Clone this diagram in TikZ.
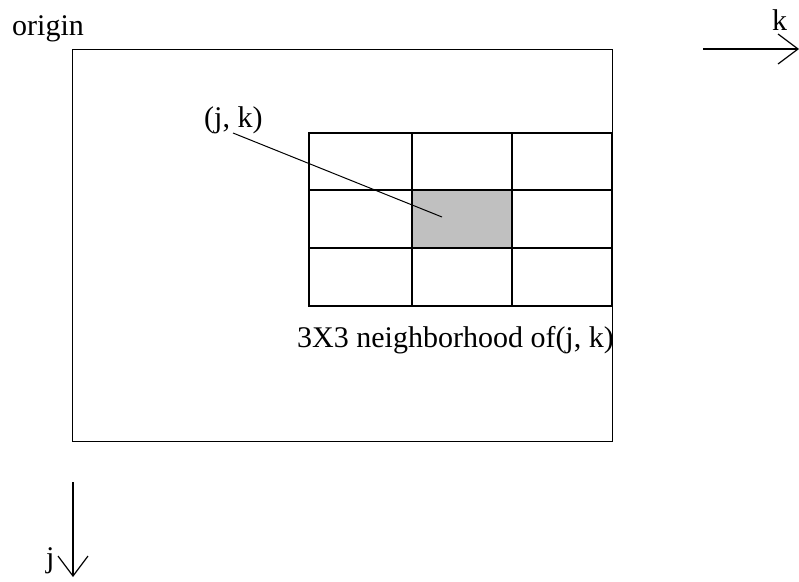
\documentclass[tikz,border=0pt]{standalone}
\usepackage{fontspec}
\setmainfont{Liberation Serif}
\usetikzlibrary{arrows.meta}
\definecolor{cellgray}{HTML}{C0C0C0}
\tikzset{
  lbl/.style={inner sep=0pt, anchor=base west, font=\fontsize{30}{35}\selectfont},
  frame/.style={draw=black, line width=1.3pt},
  gridline/.style={draw=black, line width=1.5pt},
  leader/.style={draw=black, line width=1pt},
  axis/.style={draw=black, line width=1.2pt, -{Straight Barb[length=20pt,width=30pt,line width=1.2pt]}}
}
\begin{document}
\begin{tikzpicture}[x=1pt,y=-1pt]
\useasboundingbox (0,0) rectangle (799,581);
% outer image frame
\node[frame, minimum width=540pt, minimum height=392pt, inner sep=0pt, anchor=north west] (img) at (72,49) {};
% shaded centre cell
\fill[cellgray] (412,190) rectangle (512,248);
% 3x3 grid
\draw[gridline] (309,133) rectangle (612,306);
\draw[gridline] (309,190) -- (612,190);
\draw[gridline] (309,248) -- (612,248);
\draw[gridline] (412,133) -- (412,306);
\draw[gridline] (512,133) -- (512,306);
\coordinate (centre) at (442,217);
% labels
\node[lbl] (origin) at (12,35) {origin};
\node[lbl] (jk) at (204,127) {(j, k)};
\node[lbl] (nb) at (297,347) {3X3 neighborhood of(j, k)};
\node[lbl] (klab) at (772,30) {k};
\node[lbl] (jlab) at (46,567) {j};
% leader line
\coordinate (jkfoot) at (233,133);
\draw[leader] (jkfoot) -- (centre);
% axes
\coordinate (k0) at (703,49);
\coordinate (k1) at (799,49);
\coordinate (j0) at (73,482);
\coordinate (j1) at (73,577);
\draw[axis] (k0) -- (k1);
\draw[axis] (j0) -- (j1);
\end{tikzpicture}
\end{document}
